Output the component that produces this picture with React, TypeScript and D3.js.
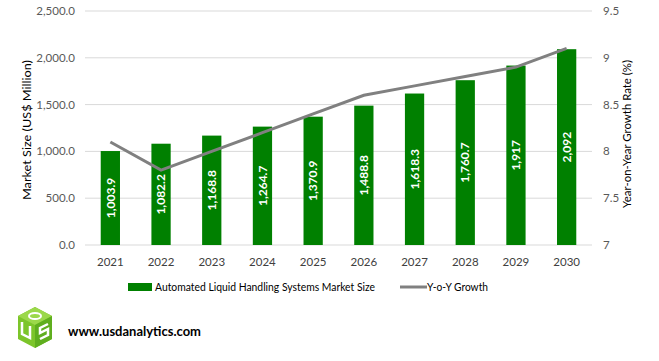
import React, { useEffect, useRef } from 'react'
import * as d3 from 'd3'

const years = ['2021', '2022', '2023', '2024', '2025', '2026', '2027', '2028', '2029', '2030']
const marketSize = [1003.9, 1082.2, 1168.8, 1264.7, 1370.9, 1488.8, 1618.3, 1760.7, 1917, 2092]
const barLabels = ['1,003.9', '1,082.2', '1,168.8', '1,264.7', '1,370.9', '1,488.8', '1,618.3', '1,760.7', '1,917', '2,092']
const yoyGrowth = [8.1, 7.8, 8.0, 8.2, 8.4, 8.6, 8.7, 8.8, 8.9, 9.1]
const leftTicks = [0, 500, 1000, 1500, 2000, 2500]
const rightTicks = [7, 7.5, 8, 8.5, 9, 9.5]

const font = 'Lato, Noto Sans, sans-serif'

function App() {
    const svgRef = useRef<SVGSVGElement>(null)

    useEffect(() => {
        const svg = d3.select(svgRef.current)
        svg.selectAll('*').remove()

        const left = 85, right = 592, top = 11, bottom = 245

        const x = d3.scaleBand().domain(years).range([left, right]).paddingInner(0.62).paddingOuter(0.31)
        const y = d3.scaleLinear().domain([0, 2500]).range([bottom, top])
        const y2 = d3.scaleLinear().domain([7, 9.5]).range([bottom, top])

        // grid
        svg.append('g').selectAll('line').data(leftTicks).join('line')
            .attr('x1', left).attr('x2', right)
            .attr('y1', d => y(d)).attr('y2', d => y(d))
            .attr('stroke', '#d9d9d9').attr('stroke-width', 1)

        // left tick labels
        svg.append('g').selectAll('text').data(leftTicks).join('text')
            .attr('x', 75).attr('y', d => y(d)).attr('dy', '0.35em')
            .attr('text-anchor', 'end').attr('font-size', 11.5).attr('font-family', font)
            .attr('fill', '#595959').text(d => d3.format(',.1f')(d))

        // right tick labels
        svg.append('g').selectAll('text').data(rightTicks).join('text')
            .attr('x', 603).attr('y', d => y2(d)).attr('dy', '0.35em')
            .attr('text-anchor', 'start').attr('font-size', 11.5).attr('font-family', font)
            .attr('fill', '#595959').text(d => String(d))

        // bars
        svg.append('g').selectAll('rect').data(marketSize).join('rect')
            .attr('x', (d, i) => x(years[i])!)
            .attr('width', x.bandwidth())
            .attr('y', d => y(d))
            .attr('height', d => bottom - y(d))
            .attr('fill', '#008000')

        // bar labels
        svg.append('g').selectAll('text').data(marketSize).join('text')
            .attr('transform', (d, i) => {
                const cx = x(years[i])! + x.bandwidth() / 2
                const cy = (y(d) + bottom) / 2
                return `translate(${cx},${cy}) rotate(-90)`
            })
            .attr('text-anchor', 'middle').attr('dy', '0.35em')
            .attr('font-size', 12).attr('font-weight', 'bold').attr('font-family', font)
            .attr('fill', '#ffffff').text((d, i) => barLabels[i])

        // line
        const line = d3.line<number>()
            .x((d, i) => x(years[i])! + x.bandwidth() / 2)
            .y(d => y2(d))
        svg.append('path').datum(yoyGrowth)
            .attr('d', line)
            .attr('fill', 'none').attr('stroke', '#808080').attr('stroke-width', 3)

        // x labels
        svg.append('g').selectAll('text').data(years).join('text')
            .attr('x', d => x(d)! + x.bandwidth() / 2).attr('y', 262)
            .attr('text-anchor', 'middle').attr('dy', '0.35em').attr('font-size', 11.5).attr('font-family', font)
            .attr('fill', '#404040').text(d => d)

        // axis titles
        svg.append('text')
            .attr('transform', 'translate(27,130) rotate(-90)')
            .attr('text-anchor', 'middle').attr('dy', '0.35em')
            .attr('font-size', 12).attr('font-family', font).attr('fill', '#000')
            .attr('textLength', 140).attr('lengthAdjust', 'spacingAndGlyphs')
            .text('Market Size (US$ Million)')
        svg.append('text')
            .attr('transform', 'translate(627,134) rotate(-90)')
            .attr('text-anchor', 'middle').attr('dy', '0.35em')
            .attr('font-size', 12).attr('font-family', font).attr('fill', '#000')
            .attr('textLength', 148).attr('lengthAdjust', 'spacingAndGlyphs')
            .text('Year-on-Year Growth Rate (%)')

        // legend
        const lg = svg.append('g')
        lg.append('rect').attr('x', 128).attr('y', 283).attr('width', 24).attr('height', 8).attr('fill', '#008000')
        lg.append('text').attr('x', 155).attr('y', 287).attr('dy', '0.35em')
            .attr('font-size', 11.5).attr('font-family', font).attr('fill', '#000')
            .attr('textLength', 220).attr('lengthAdjust', 'spacingAndGlyphs')
            .text('Automated Liquid Handling Systems Market Size')
        lg.append('line').attr('x1', 400).attr('x2', 427).attr('y1', 287).attr('y2', 287)
            .attr('stroke', '#808080').attr('stroke-width', 3)
        lg.append('text').attr('x', 427).attr('y', 287).attr('dy', '0.35em')
            .attr('font-size', 11.5).attr('font-family', font).attr('fill', '#000')
            .attr('textLength', 61).attr('lengthAdjust', 'spacingAndGlyphs')
            .text('Y-o-Y Growth')

        // logo
        const logo = svg.append('g').attr('transform', 'translate(18,307)')
        logo.append('path').attr('d', 'M17,0 L34,9 L34,32 L17,41 L0,32 L0,9 Z').attr('fill', '#7cc52a')
        logo.append('path').attr('d', 'M17,0 L34,9 L17,18 L0,9 Z').attr('fill', '#9bd84a')
        logo.append('path').attr('d', 'M17,18 L34,9 L34,32 L17,41 Z').attr('fill', '#5fae1e')
        logo.append('ellipse').attr('cx', 17).attr('cy', 9).attr('rx', 6).attr('ry', 3).attr('fill', 'none').attr('stroke', '#ffffff').attr('stroke-width', 2)
        logo.append('path').attr('d', 'M4,15 L4,27 L12,31 L12,19').attr('fill', 'none').attr('stroke', '#ffffff').attr('stroke-width', 2.5)
        logo.append('path').attr('d', 'M30,17 L22,21 L22,26 L30,22 L30,28 L22,32').attr('fill', 'none').attr('stroke', '#ffffff').attr('stroke-width', 2.5)

        svg.append('text').attr('x', 68).attr('y', 331).attr('dy', '0.35em')
            .attr('font-size', 14).attr('font-weight', 'bold').attr('font-family', font).attr('fill', '#000')
            .attr('textLength', 133).attr('lengthAdjust', 'spacingAndGlyphs')
            .text('www.usdanalytics.com')
    }, [])

    return (
        <svg ref={svgRef} width={659} height={361} style={{ position: 'absolute', left: 0, top: 0, background: '#fff' }} />
    )
}

export default App
